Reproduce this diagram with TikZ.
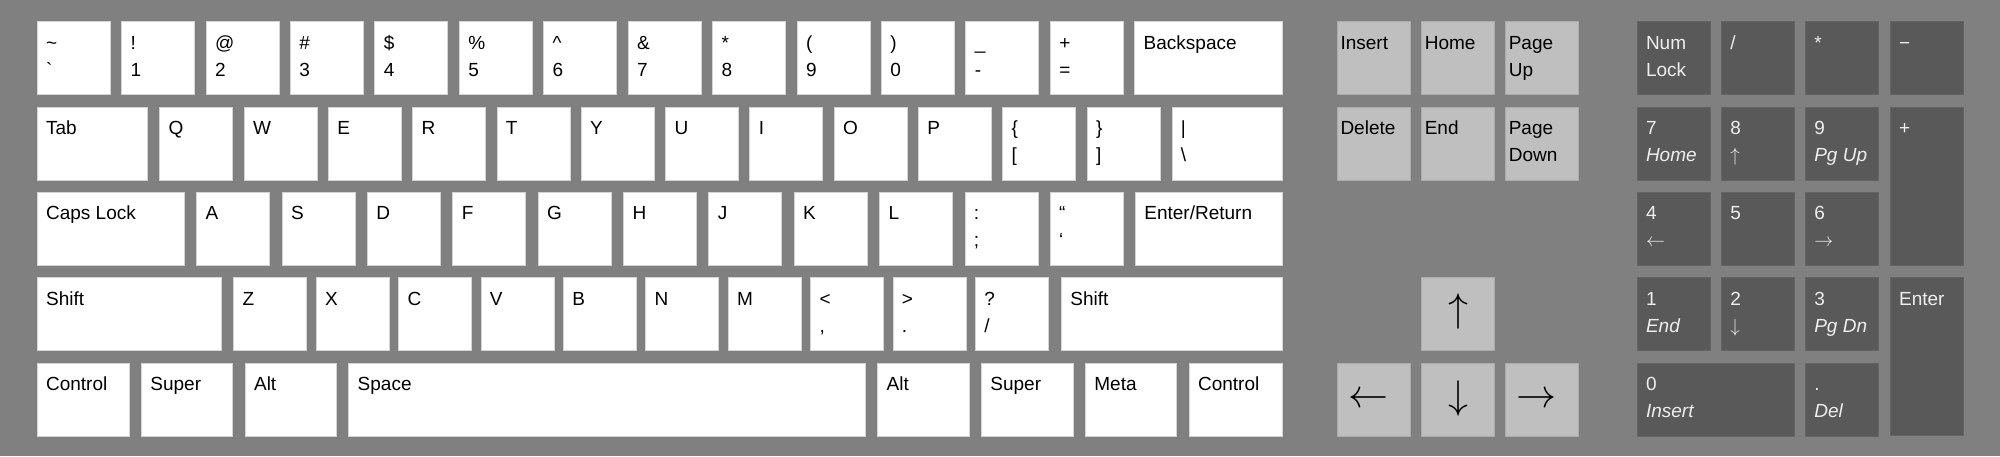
\documentclass[tikz,border=0pt]{standalone}
\usepackage{graphicx}
\usepackage{fontspec}
\setmainfont{Liberation Sans}
\definecolor{bg}{HTML}{808080}
\definecolor{mainfill}{HTML}{FFFFFF}
\definecolor{mainline}{HTML}{D4D4D4}
\definecolor{navfill}{HTML}{BFBFBF}
\definecolor{navline}{HTML}{ABABAB}
\definecolor{padfill}{HTML}{595959}
\definecolor{padline}{HTML}{646464}
\definecolor{padtext}{HTML}{EEEEEE}
\def\insetmain{9pt}
\def\insetnav{3pt}
\def\insetpad{9pt}
\newcommand\bigarr[1]{\scalebox{1.93}{$#1$}}
\newcommand\smallarr[1]{\scalebox{1.1}{$#1$}}
\tikzset{
  keybase/.style={rectangle, inner sep=0pt, outer sep=0pt, line width=0.8pt, anchor=north west},
  mainkey/.style={keybase, fill=mainfill, draw=mainline},
  navkey/.style={keybase, fill=navfill, draw=navline},
  padkey/.style={keybase, fill=padfill, draw=padline},
  lbl/.style={inner sep=0pt, outer sep=0pt, anchor=base west, font=\fontsize{19}{23}\selectfont},
  mainlbl/.style={lbl, text=black},
  navlbl/.style={lbl, text=black},
  padlbl/.style={lbl, text=padtext},
  bigarrow/.style={inner sep=0pt, outer sep=0pt, anchor=center, text=black, font=\fontsize{20.74}{24}\selectfont},
}
% #1 name, #2 kind (main/nav/pad), #3 x, #4 y, #5 w, #6 h, #7 line 1, #8 line 2
\newcommand\kbkey[8]{%
  \node[#2key, minimum width=#5pt-0.8pt, minimum height=#6pt-0.8pt] (#1) at (#3+0.4,#4+0.4) {};
  \if\relax\detokenize{#7}\relax\else
    \node[#2lbl] (#1-a) at ([xshift=\csname inset#2\endcsname, yshift=-27.6pt]#1.north west) {#7};
  \fi
  \if\relax\detokenize{#8}\relax\else
    \node[#2lbl] (#1-b) at ([xshift=\csname inset#2\endcsname, yshift=-54.6pt]#1.north west) {#8};
  \fi
}
\begin{document}
\begin{tikzpicture}[x=1pt, y=-1pt]
\fill[bg] (0,0) rectangle (2000,456);
% ---------- Row 1 ----------
\def\ry{21}\def\kh{73.8}\def\kw{73.8}
\kbkey{tilde}{main}{36.7}{\ry}{\kw}{\kh}{\textasciitilde}{\textasciigrave}
\kbkey{one}{main}{121.1}{\ry}{\kw}{\kh}{!}{1}
\kbkey{two}{main}{205.6}{\ry}{\kw}{\kh}{@}{2}
\kbkey{three}{main}{290.0}{\ry}{\kw}{\kh}{\#}{3}
\kbkey{four}{main}{374.4}{\ry}{\kw}{\kh}{\$}{4}
\kbkey{five}{main}{458.9}{\ry}{\kw}{\kh}{\%}{5}
\kbkey{six}{main}{543.3}{\ry}{\kw}{\kh}{\textasciicircum}{6}
\kbkey{seven}{main}{627.7}{\ry}{\kw}{\kh}{\&}{7}
\kbkey{eight}{main}{712.1}{\ry}{\kw}{\kh}{*}{8}
\kbkey{nine}{main}{796.6}{\ry}{\kw}{\kh}{(}{9}
\kbkey{zero}{main}{881.0}{\ry}{\kw}{\kh}{)}{0}
\kbkey{minus}{main}{965.4}{\ry}{\kw}{\kh}{\_}{-}
\kbkey{equal}{main}{1049.9}{\ry}{\kw}{\kh}{+}{=}
\kbkey{bksp}{main}{1134.3}{\ry}{148.2}{\kh}{Backspace}{}
% ---------- Row 2 ----------
\def\ry{106.5}
\kbkey{tab}{main}{36.7}{\ry}{111}{\kh}{Tab}{}
\kbkey{q}{main}{159.3}{\ry}{\kw}{\kh}{Q}{}
\kbkey{w}{main}{243.6}{\ry}{\kw}{\kh}{W}{}
\kbkey{e}{main}{327.9}{\ry}{\kw}{\kh}{E}{}
\kbkey{r}{main}{412.2}{\ry}{\kw}{\kh}{R}{}
\kbkey{t}{main}{496.5}{\ry}{\kw}{\kh}{T}{}
\kbkey{y}{main}{580.8}{\ry}{\kw}{\kh}{Y}{}
\kbkey{u}{main}{665.1}{\ry}{\kw}{\kh}{U}{}
\kbkey{i}{main}{749.4}{\ry}{\kw}{\kh}{I}{}
\kbkey{o}{main}{833.7}{\ry}{\kw}{\kh}{O}{}
\kbkey{p}{main}{918.0}{\ry}{\kw}{\kh}{P}{}
\kbkey{lbr}{main}{1002.3}{\ry}{\kw}{\kh}{\{}{[}
\kbkey{rbr}{main}{1086.6}{\ry}{\kw}{\kh}{\}}{]}
\kbkey{bslash}{main}{1171.5}{\ry}{111.2}{\kh}{|}{\textbackslash}
% ---------- Row 3 ----------
\def\ry{191.8}
\kbkey{caps}{main}{36.7}{\ry}{147.6}{\kh}{Caps Lock}{}
\kbkey{a}{main}{196.3}{\ry}{\kw}{\kh}{A}{}
\kbkey{s}{main}{281.7}{\ry}{\kw}{\kh}{S}{}
\kbkey{d}{main}{367.0}{\ry}{\kw}{\kh}{D}{}
\kbkey{f}{main}{452.4}{\ry}{\kw}{\kh}{F}{}
\kbkey{g}{main}{537.7}{\ry}{\kw}{\kh}{G}{}
\kbkey{h}{main}{623.1}{\ry}{\kw}{\kh}{H}{}
\kbkey{j}{main}{708.4}{\ry}{\kw}{\kh}{J}{}
\kbkey{k}{main}{793.8}{\ry}{\kw}{\kh}{K}{}
\kbkey{l}{main}{879.1}{\ry}{\kw}{\kh}{L}{}
\kbkey{semi}{main}{964.5}{\ry}{\kw}{\kh}{:}{;}
\kbkey{quote}{main}{1049.8}{\ry}{\kw}{\kh}{“}{‘}
\kbkey{enter}{main}{1135}{\ry}{147.7}{\kh}{Enter/Return}{}
% ---------- Row 4 ----------
\def\ry{277.3}
\kbkey{lshift}{main}{36.7}{\ry}{185}{\kh}{Shift}{}
\kbkey{z}{main}{233.3}{\ry}{\kw}{\kh}{Z}{}
\kbkey{x}{main}{315.7}{\ry}{\kw}{\kh}{X}{}
\kbkey{c}{main}{398.1}{\ry}{\kw}{\kh}{C}{}
\kbkey{v}{main}{480.5}{\ry}{\kw}{\kh}{V}{}
\kbkey{b}{main}{562.9}{\ry}{\kw}{\kh}{B}{}
\kbkey{n}{main}{645.3}{\ry}{\kw}{\kh}{N}{}
\kbkey{m}{main}{727.7}{\ry}{\kw}{\kh}{M}{}
\kbkey{comma}{main}{810.1}{\ry}{\kw}{\kh}{<}{,}
\kbkey{period}{main}{892.5}{\ry}{\kw}{\kh}{>}{.}
\kbkey{slash}{main}{974.9}{\ry}{\kw}{\kh}{?}{/}
\kbkey{rshift}{main}{1061}{\ry}{221.7}{\kh}{Shift}{}
% ---------- Row 5 ----------
\def\ry{362.7}
\kbkey{lctrl}{main}{36.7}{\ry}{92.6}{\kh}{Control}{}
\kbkey{lsuper}{main}{141}{\ry}{92}{\kh}{Super}{}
\kbkey{lalt}{main}{244.7}{\ry}{92}{\kh}{Alt}{}
\kbkey{space}{main}{348.3}{\ry}{517.4}{\kh}{Space}{}
\kbkey{ralt}{main}{877.3}{\ry}{92}{\kh}{Alt}{}
\kbkey{rsuper}{main}{981}{\ry}{92.3}{\kh}{Super}{}
\kbkey{meta}{main}{1085}{\ry}{92}{\kh}{Meta}{}
\kbkey{rctrl}{main}{1188.7}{\ry}{93.8}{\kh}{Control}{}
% ---------- Navigation cluster ----------
\kbkey{ins}{nav}{1337.1}{21}{\kw}{\kh}{Insert}{}
\kbkey{home}{nav}{1421.4}{21}{\kw}{\kh}{Home}{}
\kbkey{pgup}{nav}{1505.4}{21}{\kw}{\kh}{Page}{Up}
\kbkey{del}{nav}{1337.1}{106.5}{\kw}{\kh}{Delete}{}
\kbkey{end}{nav}{1421.4}{106.5}{\kw}{\kh}{End}{}
\kbkey{pgdn}{nav}{1505.4}{106.5}{\kw}{\kh}{Page}{Down}
\kbkey{up}{nav}{1421.4}{277.3}{\kw}{\kh}{}{}
\kbkey{left}{nav}{1337.1}{362.7}{\kw}{\kh}{}{}
\kbkey{down}{nav}{1421.4}{362.7}{\kw}{\kh}{}{}
\kbkey{right}{nav}{1505.4}{362.7}{\kw}{\kh}{}{}
\node[bigarrow] (up-a) at (1458,311.7) {\bigarr{\uparrow}};
\node[bigarrow] (left-a) at (1368,400) {\bigarr{\leftarrow}};
\node[bigarrow] (down-a) at (1458,398.7) {\bigarr{\downarrow}};
\node[bigarrow] (right-a) at (1536.6,400) {\bigarr{\rightarrow}};
% ---------- Numeric keypad ----------
\kbkey{numlock}{pad}{1636.6}{21}{\kw}{\kh}{Num}{Lock}
\kbkey{kpdiv}{pad}{1721.0}{21}{\kw}{\kh}{/}{}
\kbkey{kpmul}{pad}{1804.9}{21}{\kw}{\kh}{*}{}
\kbkey{kpsub}{pad}{1889.7}{21}{\kw}{\kh}{−}{}
\kbkey{kpseven}{pad}{1636.6}{106.5}{\kw}{\kh}{7}{\textit{Home}}
\kbkey{kpeight}{pad}{1721.0}{106.5}{\kw}{\kh}{8}{\smallarr{\uparrow}}
\kbkey{kpnine}{pad}{1804.9}{106.5}{\kw}{\kh}{9}{\textit{Pg Up}}
\kbkey{kpadd}{pad}{1889.7}{106.5}{\kw}{159.2}{+}{}
\kbkey{kpfour}{pad}{1636.6}{191.8}{\kw}{\kh}{4}{\smallarr{\leftarrow}}
\kbkey{kpfive}{pad}{1721.0}{191.8}{\kw}{\kh}{5}{}
\kbkey{kpsix}{pad}{1804.9}{191.8}{\kw}{\kh}{6}{\smallarr{\rightarrow}}
\kbkey{kpone}{pad}{1636.6}{277.3}{\kw}{\kh}{1}{\textit{End}}
\kbkey{kptwo}{pad}{1721.0}{277.3}{\kw}{\kh}{2}{\smallarr{\downarrow}}
\kbkey{kpthree}{pad}{1804.9}{277.3}{\kw}{\kh}{3}{\textit{Pg Dn}}
\kbkey{kpenter}{pad}{1889.7}{277.3}{\kw}{158.7}{Enter}{}
\kbkey{kpzero}{pad}{1636.6}{362.7}{158}{\kh}{0}{\textit{Insert}}
\kbkey{kpdot}{pad}{1804.9}{362.7}{\kw}{\kh}{.}{\textit{Del}}
\end{tikzpicture}
\end{document}
